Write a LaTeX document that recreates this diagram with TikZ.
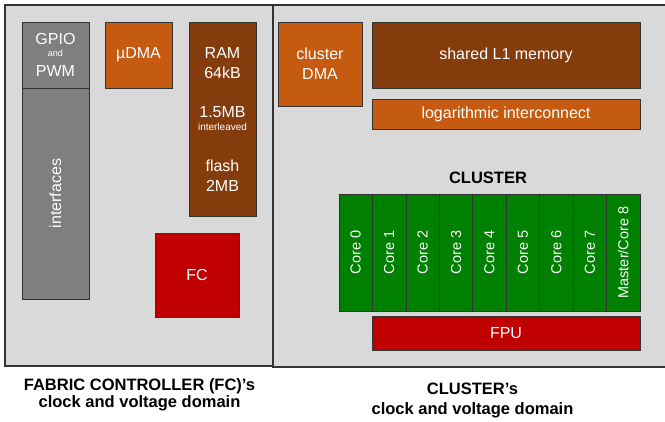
\documentclass[tikz,border=0pt]{standalone}
\usepackage{fontspec}
\setmainfont{Liberation Sans}
\definecolor{panelgray}{HTML}{D9D9D9}
\definecolor{ifgray}{HTML}{7F7F7F}
\definecolor{dmaorange}{HTML}{C55A11}
\definecolor{membrown}{HTML}{843C0C}
\definecolor{fcred}{HTML}{C00000}
\definecolor{coregreen}{HTML}{008000}
\tikzset{
  panel/.style={fill=panelgray,draw=black!80,line width=1.2pt},
  block/.style={draw=black!80,line width=.7pt,inner sep=0pt,text=white,
    font=\fontsize{16}{20}\selectfont,align=center},
  corebox/.style={block,fill=coregreen,minimum width=33.44pt,minimum height=117pt,
    font=\fontsize{14.5}{17}\selectfont},
  caption/.style={font=\bfseries\fontsize{16.5}{18}\selectfont,align=center,inner sep=0pt}
}
\begin{document}
\begin{tikzpicture}[x=1pt,y=-1pt]
  \useasboundingbox (0,0) rectangle (665,422);
  % the two clock and voltage domains
  \fill[panelgray] (273,5) rectangle (666,367);
  \draw[black!80,line width=1.2pt] (666,5)--(273,5)--(273,367)--(666,367);
  \draw[panel] (5,5) rectangle (273,366);
  % fabric controller side
  \node[block,fill=ifgray,minimum width=67pt,minimum height=66pt] (gpio) at (55.5,55) {GPIO\\[-8pt]{\fontsize{9}{10}\selectfont and}\\[0pt]PWM};
  \node[block,fill=ifgray,minimum width=67pt,minimum height=211pt] (ifaces) at (55.5,193.5) {\rotatebox{90}{interfaces}};
  \node[block,fill=dmaorange,minimum width=67pt,minimum height=66pt] (udma) at (138.5,55) {µDMA};
  \node[block,fill=membrown,minimum width=67pt,minimum height=194pt] (ram) at (222.5,119)
    {RAM\\64kB\\[19pt]1.5MB\\[-7pt]{\fontsize{10}{12}\selectfont interleaved}\\[21pt]flash\\2MB};
  \node[block,fill=fcred,minimum width=84pt,minimum height=84pt] (fc) at (197,275) {FC};
  % cluster side
  \node[block,fill=dmaorange,minimum width=84pt,minimum height=84pt] (cdma) at (320,64) {cluster\\DMA};
  \node[block,fill=membrown,minimum width=268pt,minimum height=66pt] (l1) at (506,55) {shared L1 memory};
  \node[block,fill=dmaorange,minimum width=268pt,minimum height=30pt] (logint) at (506,114) {logarithmic interconnect};
  \node[font=\bfseries\fontsize{16.5}{18}\selectfont] (cluster) at (488,178) {CLUSTER};
  \foreach \i in {0,...,7}
    \node[corebox] (core\i) at (339+33.44*\i+16.72,252.5) {\rotatebox{90}{Core \i}};
  \node[corebox] (core8) at (339+33.44*8+16.72,252.5) {\rotatebox{90}{Master/Core 8}};
  \node[block,fill=fcred,minimum width=268pt,minimum height=34pt] (fpu) at (506,333) {FPU};
  % domain captions
  \node[caption] (fccap) at (139.5,395) {FABRIC CONTROLLER (FC)'s\\[-1pt]clock and voltage domain};
  \node[caption] (clcap) at (472.5,400) {CLUSTER's\\[2pt]clock and voltage domain};
\end{tikzpicture}
\end{document}
